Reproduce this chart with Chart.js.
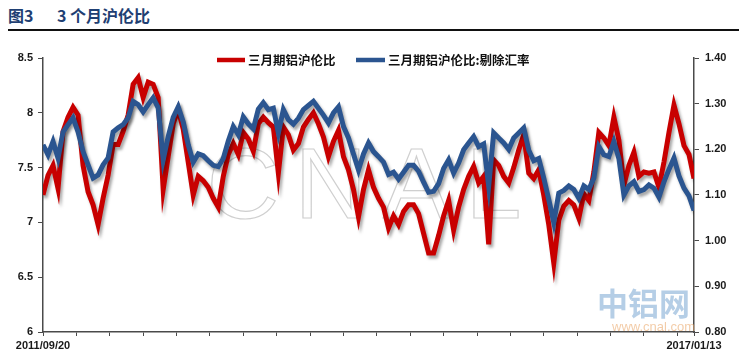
<!DOCTYPE html>
<html>
<head>
<meta charset="utf-8">
<script src="https://cdn.jsdelivr.net/npm/chart.js@4/dist/chart.umd.min.js"></script>
<style>
  html, body { margin: 0; padding: 0; background: #fff; }
  #wrap { position: relative; width: 739px; height: 358px; overflow: hidden; }
  .title { position: absolute; top: 3px; font: bold 16px "Noto Sans CJK SC", sans-serif; color: #1F3F73; white-space: pre; }
  #rule { position: absolute; left: 8px; right: 0; top: 29px; height: 2px; background: #111; }
  canvas { position: absolute; left: 0; top: 0; }
</style>
</head>
<body>
<div id="wrap">
  <div class="title" style="left:8px">图3</div>
  <div class="title" style="left:57px">3 个月沪伦比</div>
  <div id="rule"></div>
  <canvas id="c" width="739" height="358"></canvas>
</div>
<script>
// ---- data ----
const xLabels = ['2011/09/20', '2017/01/13'];
const seriesNames = ['三月期铝沪伦比', '三月期铝沪伦比:剔除汇率'];
const leftTicks = [6, 6.5, 7, 7.5, 8, 8.5];
const rightTicks = [0.80, 0.90, 1.00, 1.10, 1.20, 1.30, 1.40];

// 三月期铝沪伦比 (left axis)
const redValues = [
  7.25, 7.43, 7.52, 7.31, 7.83, 7.96, 8.05, 7.98, 7.52, 7.28,
  7.16, 6.98, 7.22, 7.43, 7.71, 7.71, 7.83, 7.98, 8.26, 8.32,
  8.14, 8.28, 8.26, 8.14, 7.30, 7.60, 7.90, 8.03, 7.85, 7.55,
  7.25, 7.42, 7.38, 7.32, 7.22, 7.14, 7.42, 7.62, 7.72, 7.62,
  7.82, 7.76, 7.65, 7.90, 7.96, 7.91, 7.87, 7.45, 7.87, 7.80,
  7.66, 7.72, 7.87, 7.94, 8.00, 7.90, 7.78, 7.60, 7.74, 7.84,
  7.60, 7.48, 7.30, 7.05, 7.30, 7.48, 7.32, 7.22, 7.14, 6.95,
  7.06, 6.98, 7.10, 7.16, 7.16, 7.08, 6.90, 6.72, 6.72, 6.88,
  7.06, 7.20, 6.93, 7.14, 7.30, 7.42, 7.51, 7.36, 7.42, 6.80,
  7.57, 7.52, 7.42, 7.36, 7.50, 7.66, 7.80, 7.45, 7.40, 7.48,
  7.25, 6.98, 6.63, 7.02, 7.15, 7.20, 7.16, 7.04, 7.26, 7.20,
  7.46, 7.82, 7.77, 7.70, 7.96, 7.75, 7.34, 7.52, 7.64, 7.42,
  7.46, 7.45, 7.46, 7.32, 7.55, 7.82, 8.07, 7.90, 7.70, 7.62,
  7.40
];

// 三月期铝沪伦比:剔除汇率 (right axis)
const blueValues = [
  1.210, 1.188, 1.217, 1.181, 1.238, 1.254, 1.269, 1.238, 1.195, 1.166,
  1.137, 1.144, 1.166, 1.181, 1.238, 1.247, 1.254, 1.269, 1.305, 1.298,
  1.282, 1.298, 1.313, 1.291, 1.177, 1.228, 1.270, 1.293, 1.260, 1.210,
  1.172, 1.190, 1.186, 1.175, 1.165, 1.162, 1.180, 1.218, 1.250, 1.232,
  1.271, 1.256, 1.245, 1.288, 1.302, 1.287, 1.290, 1.236, 1.287, 1.265,
  1.255, 1.268, 1.287, 1.296, 1.305, 1.290, 1.275, 1.258, 1.280, 1.293,
  1.250, 1.225, 1.190, 1.155, 1.190, 1.214, 1.195, 1.184, 1.172, 1.145,
  1.150, 1.135, 1.150, 1.165, 1.165, 1.152, 1.128, 1.106, 1.108, 1.125,
  1.158, 1.177, 1.148, 1.170, 1.199, 1.214, 1.228, 1.206, 1.212, 1.120,
  1.236, 1.225, 1.214, 1.200, 1.225, 1.236, 1.247, 1.198, 1.175, 1.180,
  1.137, 1.090, 1.040, 1.104, 1.110, 1.120, 1.112, 1.093, 1.120, 1.112,
  1.137, 1.206, 1.188, 1.184, 1.217, 1.180, 1.100, 1.120, 1.129, 1.108,
  1.112, 1.122, 1.115, 1.095, 1.129, 1.156, 1.181, 1.142, 1.115, 1.098,
  1.066
];

// ---- styles ----
const RED = '#C80000';
const BLUE = '#2B5590';
const AXIS = '#4a4a4a';
const TICK_FONT = { family: '"Liberation Sans", Arial, sans-serif', size: 11, weight: 'bold' };
const maxIdx = redValues.length - 1;

const shadowPlugin = {
  id: 'shadow',
  beforeDatasetDraw(chart) {
    const ctx = chart.ctx;
    ctx.save();
    ctx.shadowColor = 'rgba(0,0,0,0.35)';
    ctx.shadowBlur = 3;
    ctx.shadowOffsetX = 2;
    ctx.shadowOffsetY = 3;
  },
  afterDatasetDraw(chart) { chart.ctx.restore(); }
};

const decorPlugin = {
  id: 'decor',
  beforeDatasetsDraw(chart) {
    const ctx = chart.ctx;
    ctx.save();
    ctx.font = '100px "Liberation Sans", Arial, sans-serif';
    ctx.strokeStyle = 'rgba(160,160,160,0.5)';
    ctx.lineWidth = 1.2;
    ctx.textAlign = 'center';
    ctx.textBaseline = 'middle';
    if ('letterSpacing' in ctx) ctx.letterSpacing = '16px';
    ctx.strokeText('CNAL', 372, 190);
    ctx.restore();
  },
  afterDraw(chart) {
    const ctx = chart.ctx;
    ctx.save();
    // legend
    ctx.font = 'bold 12.5px "Noto Sans CJK SC", sans-serif';
    ctx.textBaseline = 'middle';
    ctx.fillStyle = '#111';
    ctx.lineWidth = 4.5;
    ctx.strokeStyle = RED;
    ctx.beginPath(); ctx.moveTo(217, 60); ctx.lineTo(245, 60); ctx.stroke();
    ctx.fillText(seriesNames[0], 248, 60);
    ctx.strokeStyle = BLUE;
    ctx.beginPath(); ctx.moveTo(356, 60); ctx.lineTo(385, 60); ctx.stroke();
    ctx.fillText(seriesNames[1], 388, 60);
    // site watermark
    ctx.font = 'bold 31px "Noto Sans CJK SC", sans-serif';
    ctx.fillStyle = 'rgba(120,165,210,0.55)';
    ctx.textAlign = 'left';
    ctx.fillText('中铝网', 597, 303);
    ctx.font = '13px "Liberation Sans", Arial, sans-serif';
    ctx.fillStyle = 'rgba(235,170,110,0.6)';
    ctx.fillText('www.cnal.com', 612, 327);
    ctx.restore();
  }
};

new Chart(document.getElementById('c'), {
  type: 'line',
  data: {
    datasets: [
      {
        label: seriesNames[1],
        data: blueValues.map((v, i) => ({ x: i, y: v })),
        yAxisID: 'y1',
        borderColor: BLUE,
        borderWidth: 5,
        pointRadius: 0,
        tension: 0,
        order: 1
      },
      {
        label: seriesNames[0],
        data: redValues.map((v, i) => ({ x: i, y: v })),
        yAxisID: 'y',
        borderColor: RED,
        borderWidth: 5,
        pointRadius: 0,
        tension: 0,
        order: 2
      }
    ]
  },
  options: {
    responsive: false,
    devicePixelRatio: 1,
    animation: false,
    layout: { padding: { top: 58, left: 0, right: 0, bottom: 0 } },
    plugins: { legend: { display: false }, tooltip: { enabled: false }, title: { display: false } },
    scales: {
      x: {
        type: 'linear',
        min: 0,
        max: maxIdx,
        afterFit(s) { s.height = 26; },
        afterBuildTicks(axis) {
          const step = maxIdx / 19.5;
          const t = [];
          for (let v = 0; v < maxIdx - 0.5; v += step) t.push({ value: v });
          t.push({ value: maxIdx });
          axis.ticks = t;
        },
        ticks: {
          autoSkip: false,
          maxRotation: 0,
          padding: 3,
          color: '#1a1a1a',
          font: TICK_FONT,
          callback: (v) => v === 0 ? xLabels[0] : (v === maxIdx ? xLabels[1] : '')
        },
        grid: { display: true, drawOnChartArea: false, drawTicks: true, tickLength: 4, color: AXIS, lineWidth: 1 },
        border: { display: true, color: AXIS, width: 1.5 }
      },
      y: {
        position: 'left',
        min: leftTicks[0],
        max: leftTicks[leftTicks.length - 1],
        afterFit(s) { s.width = 43; },
        afterBuildTicks(axis) { axis.ticks = leftTicks.map(v => ({ value: v })); },
        ticks: { color: '#1a1a1a', font: TICK_FONT, padding: 5, callback: (v) => String(Math.round(v * 10) / 10) },
        grid: { display: true, drawOnChartArea: false, drawTicks: true, tickLength: 5, color: AXIS },
        border: { display: true, color: AXIS, width: 1.5 }
      },
      y1: {
        position: 'right',
        min: rightTicks[0],
        max: rightTicks[rightTicks.length - 1],
        afterFit(s) { s.width = 45; },
        afterBuildTicks(axis) { axis.ticks = rightTicks.map(v => ({ value: v })); },
        ticks: { color: '#1a1a1a', font: TICK_FONT, padding: 6, callback: (v) => Number(v).toFixed(2) },
        grid: { display: true, drawOnChartArea: false, drawTicks: true, tickLength: 5, color: AXIS },
        border: { display: true, color: AXIS, width: 1.5 }
      }
    }
  },
  plugins: [shadowPlugin, decorPlugin]
});
</script>
</body>
</html>
